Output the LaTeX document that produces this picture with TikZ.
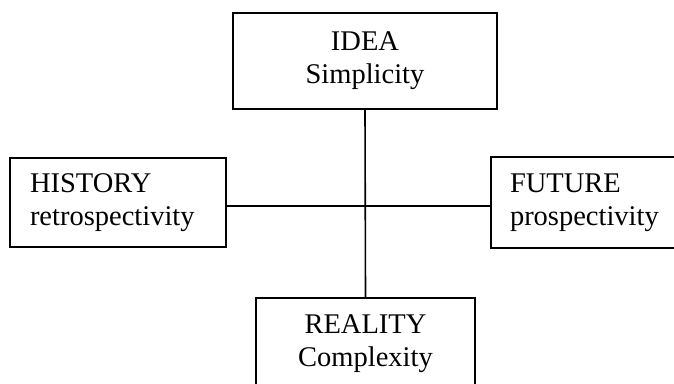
\documentclass[tikz,border=0pt]{standalone}
\usepackage{fontspec}
\setmainfont{Liberation Serif}
\begin{document}
\begin{tikzpicture}[x=1pt,y=-1pt,
  box/.style={draw,line width=1.6pt,inner sep=0pt,font=\fontsize{28.5}{33}\selectfont},
  conn/.style={line width=1.6pt}]
\useasboundingbox (0,0) rectangle (674,383);
\fill[white] (0,0) rectangle (674,383);
\node[box, minimum width=264pt, minimum height=96pt, align=center] (idea) at (365,61) {IDEA\\Simplicity};
\node[box, minimum width=216pt, minimum height=89pt, text width=176pt, inner xsep=20pt, align=left] (hist) at (118,202.5) {HISTORY\\retrospectivity};
\node[box, minimum width=203pt, minimum height=91pt, text width=165pt, inner xsep=19pt, align=left] (fut) at (592.5,202.5) {FUTURE\\prospectivity};
\node[box, minimum width=219pt, minimum height=92pt, align=center] (real) at (365.5,344) {REALITY\\Complexity};
\coordinate (cross) at (365,206);
\draw[conn] (idea.south) -- (real.north);
\draw[conn] (hist.east |- cross) -- (fut.west |- cross);
\end{tikzpicture}
\end{document}
